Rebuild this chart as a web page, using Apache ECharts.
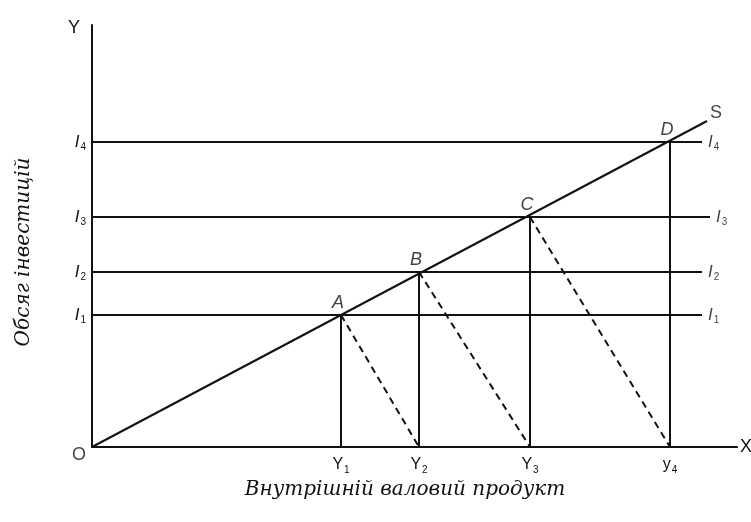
<!DOCTYPE html>
<html>
<head>
<meta charset="utf-8">
<script src="https://cdn.jsdelivr.net/npm/echarts@6/dist/echarts.min.js"></script>
<style>
  html, body { margin: 0; padding: 0; background: #fff; }
  #chart { width: 751px; height: 522px; }
</style>
</head>
<body>
<div id="chart"></div>
<script>
// income levels on X (Y1..Y4) and investment levels on Y (I1..I4)
const incomeLevels = [249, 327, 438, 578];
const investLevels = [132, 175, 230, 305];
const incomeLabels = ['Y', 'Y', 'Y', 'y'];
const incomeSubs = ['1', '2', '3', '4'];
const investSubs = ['1', '2', '3', '4'];
const pointNames = ['A', 'B', 'C', 'D'];
const lineEnds = [610, 610, 618, 610];
const sEnd = [615, 326];

const ink = '#111';
const sans = 'Liberation Sans, Arial, sans-serif';
const serif = 'DejaVu Serif, Liberation Serif, serif';

const iRich = {
  i: { fontFamily: sans, fontStyle: 'italic', fontSize: 17, color: ink, lineHeight: 20 },
  s: { fontFamily: sans, fontSize: 10, color: ink, verticalAlign: 'bottom', padding: [0, 0, 0, 1] },
  y: { fontFamily: sans, fontSize: 16, color: ink, lineHeight: 20 }
};

const chart = echarts.init(document.getElementById('chart'));

const lineSeries = (data, dashed) => ({
  type: 'line',
  data: data,
  symbol: 'none',
  silent: true,
  animation: false,
  lineStyle: { color: ink, width: 2, type: dashed ? [7, 5] : 'solid' }
});

const series = [];
// S line
series.push(lineSeries([[0, 0], sEnd], false));
// horizontal investment lines
investLevels.forEach((v, k) => series.push(lineSeries([[0, v], [lineEnds[k], v]], false)));
// verticals from equilibrium points
incomeLevels.forEach((x, k) => series.push(lineSeries([[x, 0], [x, investLevels[k]]], false)));
// dashed transitions
for (let k = 0; k < 3; k++) {
  series.push(lineSeries([[incomeLevels[k], investLevels[k]], [incomeLevels[k + 1], 0]], true));
}

// text labels placed through data coords
const labelData = [];
pointNames.forEach((n, k) => labelData.push({
  value: [incomeLevels[k], investLevels[k]],
  label: { formatter: n, position: 'top', distance: 3, offset: [-3, 0],
    fontFamily: sans, fontStyle: 'italic', fontSize: 18, color: ink }
}));
investLevels.forEach((v, k) => labelData.push({
  value: [lineEnds[k], v],
  label: { formatter: '{i|I}{s|' + investSubs[k] + '}', position: 'right', distance: 6, rich: iRich }
}));
labelData.push({
  value: sEnd,
  label: { formatter: 'S', position: 'right', distance: 3, offset: [0, -8],
    fontFamily: sans, fontSize: 18, color: ink }
});
labelData.push({
  value: [0, 0],
  label: { formatter: 'O', position: 'left', distance: 6, offset: [0, 8],
    fontFamily: sans, fontSize: 18, color: ink }
});
series.push({
  type: 'scatter',
  data: labelData,
  symbolSize: 0,
  silent: true,
  animation: false,
  label: { show: true }
});

chart.setOption({
  animation: false,
  grid: { left: 92, top: 25, width: 645, height: 422, containLabel: false, outerBoundsMode: 'none' },
  xAxis: {
    type: 'value', min: 0, max: 645,
    name: 'X', nameGap: 3,
    nameTextStyle: { fontFamily: sans, fontSize: 18, color: ink, verticalAlign: 'middle' },
    axisLine: { lineStyle: { color: ink, width: 2 } },
    axisTick: { show: false },
    splitLine: { show: false },
    axisLabel: {
      customValues: incomeLevels,
      margin: 8,
      formatter: v => {
        const k = incomeLevels.indexOf(v);
        return '{y|' + incomeLabels[k] + '}{s|' + incomeSubs[k] + '}';
      },
      rich: iRich
    }
  },
  yAxis: {
    type: 'value', min: 0, max: 422,
    name: 'Y', nameGap: -3, nameLocation: 'end',
    nameTextStyle: { fontFamily: sans, fontSize: 18, color: ink, align: 'right', verticalAlign: 'middle', padding: [0, 12, 0, 0] },
    axisLine: { lineStyle: { color: ink, width: 2 } },
    axisTick: { show: false },
    splitLine: { show: false },
    axisLabel: {
      customValues: investLevels,
      margin: 6,
      formatter: v => '{i|I}{s|' + investSubs[investLevels.indexOf(v)] + '}',
      rich: iRich
    }
  },
  graphic: [
    {
      type: 'text', x: 405, y: 490,
      style: { text: 'Внутрішній валовий продукт', fontFamily: serif, fontStyle: 'italic', fontSize: 20, fill: ink,
        align: 'center', verticalAlign: 'middle' }
    },
    {
      type: 'text', x: 24, y: 252, rotation: Math.PI / 2,
      style: { text: 'Обсяг інвестицій', fontFamily: serif, fontStyle: 'italic', fontSize: 20, fill: ink,
        align: 'center', verticalAlign: 'middle' }
    }
  ],
  series: series
});
</script>
</body>
</html>
